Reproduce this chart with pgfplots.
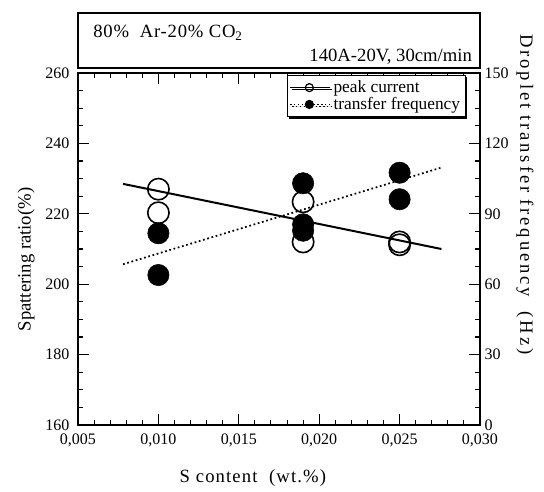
\documentclass[border=0pt]{standalone}
\usepackage{fontspec}
\setmainfont{Liberation Serif}
\usepackage{pgfplots}
\pgfplotsset{compat=1.18}
\usetikzlibrary{shadows}

\pgfplotstableread{
x y
0.010 227.0
0.010 220.3
0.019 223.4
0.019 212.0
0.025 212.0
0.025 211.2
}\peakdata

\pgfplotstableread{
x y
0.010 81.7
0.010 63.9
0.019 103.0
0.019 85.5
0.019 82.8
0.025 107.5
0.025 96.2
}\freqdata

\begin{document}
\begin{tikzpicture}
\path[use as bounding box] (-58.5pt,-50.25pt) rectangle (349.5pt,318.75pt);
\pgfplotsset{
  every axis/.append style={
    width=301.5pt, height=264pt, scale only axis,
    xmin=0.005, xmax=0.030,
    axis line style={line width=1pt},
    tick style={line width=0.8pt, black},
    tick align=inside,
    major tick length=8pt, minor tick length=4pt,
    /pgf/number format/assume math mode=true,
    ticklabel style={font=\fontsize{12}{14}\selectfont},
  }
}
\begin{axis}[
  ymin=160, ymax=260,
  xtick={0.005,0.010,0.015,0.020,0.025,0.030},
  ytick={160,180,...,260},
  minor x tick num=4, minor y tick num=3,
  ytick pos=left,
  scaled x ticks=false,
  xticklabel style={yshift=-3pt, /pgf/number format/.cd, fixed, fixed zerofill, precision=3, use comma},
  yticklabel style={xshift=-3pt},
  xlabel={S content\ \ (wt.\%)},
  ylabel={Spattering ratio(\%)},
  every axis x label/.style={at={(axis description cs:0.435,-0.152)}, anchor=center,
    font=\fontsize{14}{16}\selectfont\addfontfeatures{LetterSpace=6}},
  every axis y label/.style={at={(axis description cs:-0.129,0.47)}, anchor=center, rotate=90, font=\fontsize{14}{16}\selectfont},
]
\addplot[black, line width=1.5pt] coordinates {(0.0078,228.5) (0.0276,210.0)};
\addplot[only marks, mark=o, mark size=8pt, mark options={line width=1.2pt, black}] table[x=x,y=y] {\peakdata};
\end{axis}
\begin{axis}[
  ymin=0, ymax=150,
  axis x line=none,
  axis y line*=right,
  ytick={0,30,...,150},
  minor y tick num=3,
  ylabel={Droplet transfer frequency\ \ (Hz)},
  every axis y label/.style={at={(axis description cs:1.112,0.655)}, anchor=center, rotate=-90,
    font=\fontsize{14}{16}\selectfont\addfontfeatures{LetterSpace=15}},
  legend style={at={(0.965,0.995)}, anchor=north east, draw=black, line width=0.8pt,
    fill=white, drop shadow={shadow xshift=1.5pt, shadow yshift=-1.5pt, fill=black, opacity=1},
    font=\fontsize{13}{15}\selectfont, cells={anchor=west}, row sep=-2pt, inner sep=2pt},
  legend image code/.code={\draw[#1] (0cm,0cm) -- (1.05cm,0cm); \draw[#1] plot coordinates {(0.5cm,0cm)};},
]
\addlegendimage{black, line width=0.9pt, mark=o, mark size=3pt, mark options={solid}}
\addlegendentry{peak current}
\addlegendimage{black, dotted, line width=0.9pt, mark=*, mark size=3pt, mark options={solid}}
\addlegendentry{transfer frequency}
\addplot[black, dotted, line width=1.3pt, forget plot] coordinates {(0.0078,68.5) (0.0276,109.7)};
\addplot[only marks, mark=*, mark size=8pt, mark options={black}, forget plot] table[x=x,y=y] {\freqdata};
\end{axis}
\draw[line width=0.9pt] (0,267.75pt) rectangle (301.5pt,309pt);
\node[anchor=west, font=\fontsize{14}{16}\selectfont\addfontfeatures{LetterSpace=4}] at (8pt,294pt) {80\%\ \ Ar-20\%\ CO\textsubscript{2}};
\node[anchor=east, font=\fontsize{14}{16}\selectfont] at (299pt,276pt) {140A-20V, 30cm/min};
\end{tikzpicture}
\end{document}
